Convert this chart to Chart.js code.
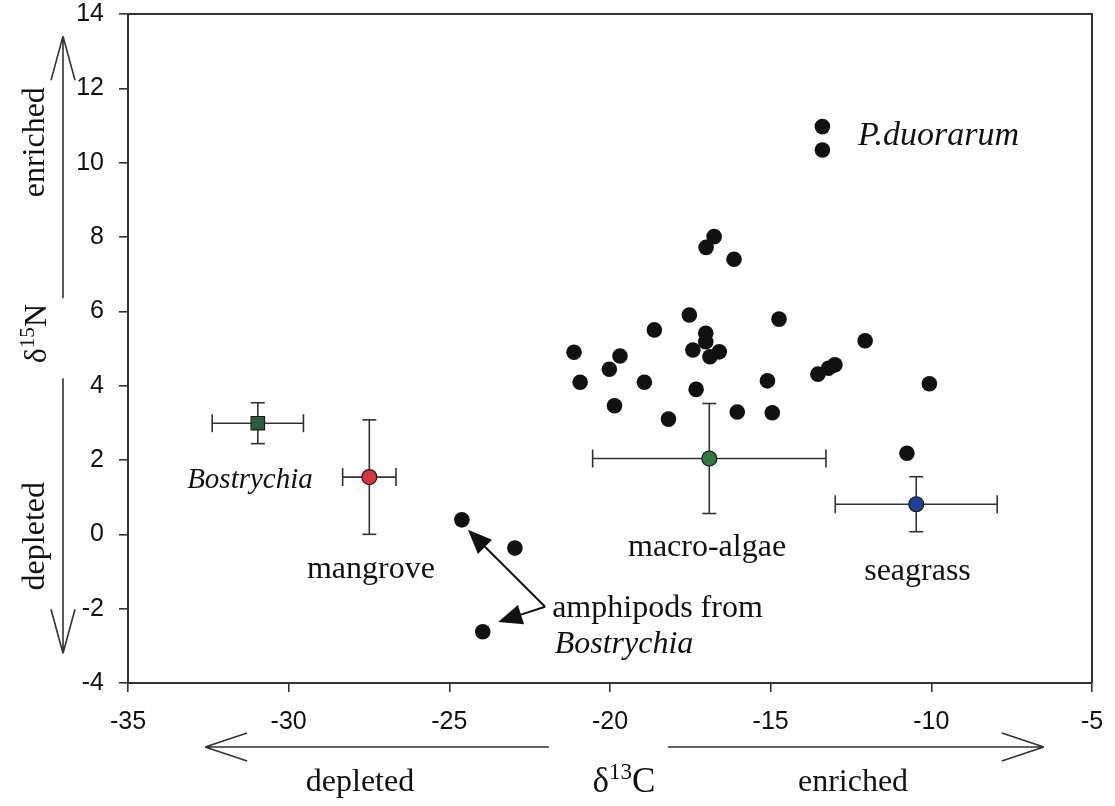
<!DOCTYPE html>
<html>
<head>
<meta charset="utf-8">
<script src="https://cdn.jsdelivr.net/npm/chart.js@4.4.0/dist/chart.umd.min.js"></script>
<style>
  html, body { margin: 0; padding: 0; background: #fff; }
  #wrap { width: 1115px; height: 806px; position: relative; }
</style>
</head>
<body>
<div id="wrap"><canvas id="isoChart"></canvas></div>
<script>
// axis ticks
const xTicks = [-35, -30, -25, -20, -15, -10, -5];
const yTicks = [-4, -2, 0, 2, 4, 6, 8, 10, 12, 14];

// consumers (black dots): d13C, d15N
const consumerC = [-16.76, -17.01, -16.14, -17.53, -14.74, -18.62, -17.02, -17.02, -12.06, -21.12,
                   -19.69, -17.42, -16.60, -16.89, -20.02, -13.00, -13.20, -13.53, -20.93, -18.93,
                   -15.10, -17.32, -10.06, -19.86, -16.04, -14.95, -18.18, -10.76];
const consumerN = [8.01, 7.72, 7.40, 5.90, 5.79, 5.50, 5.41, 5.18, 5.21, 4.90,
                   4.80, 4.96, 4.91, 4.78, 4.44, 4.56, 4.47, 4.31, 4.09, 4.09,
                   4.13, 3.90, 4.05, 3.46, 3.29, 3.27, 3.10, 2.18];

// P. duorarum
const shrimpC = [-13.39, -13.39];
const shrimpN = [10.97, 10.34];

// amphipods from Bostrychia
const amphipodC = [-24.61, -22.96, -23.96];
const amphipodN = [0.39, -0.37, -2.62];

// primary producers, mean +- sd
const sourceNames = ['Bostrychia', 'mangrove', 'macro-algae', 'seagrass'];
const sourceC   = [-30.96, -27.49, -16.91, -10.47];
const sourceCSd = [1.42, 0.83, 3.63, 2.52];
const sourceN   = [2.99, 1.54, 2.04, 0.81];
const sourceNSd = [0.55, 1.54, 1.48, 0.74];

const sourceStyle = [
  { style: 'rect',   radius: 9.5, fill: '#2a5e36' },
  { style: 'circle', radius: 7.5, fill: '#d9343f' },
  { style: 'circle', radius: 7.5, fill: '#2f7a40' },
  { style: 'circle', radius: 7.5, fill: '#1f3f9e' }
];

const serif = '"Liberation Serif", "Times New Roman", serif';
const sans = '"Liberation Sans", Arial, sans-serif';

// text labels inside the plot (data units, left edge / vertical middle)
const notes = [
  { text: 'P.duorarum',     x: -12.28, y: 10.72, italic: true, size: 34 },
  { text: 'Bostrychia',     x: -33.16, y: 1.45,  italic: true, size: 29 },
  { text: 'mangrove',       x: -29.43, y: -0.96, size: 32 },
  { text: 'macro-algae',    x: -19.44, y: -0.37, size: 32 },
  { text: 'seagrass',       x: -12.09, y: -1.01, size: 32 },
  { text: 'amphipods from', x: -21.80, y: -2.01, size: 32 },
  { text: 'Bostrychia',     x: -21.72, y: -2.98, italic: true, size: 32 }
];
const pointerFrom = { x: -22.02, y: -1.95 };
const pointerTo = [{ x: -24.42, y: 0.12 }, { x: -23.48, y: -2.36 }];

function toPoints(xs, ys) {
  return xs.map((v, i) => ({ x: v, y: ys[i] }));
}

const datasets = [];
sourceNames.forEach((name, i) => {
  datasets.push({
    label: name,
    data: [{ x: sourceC[i], y: sourceN[i] }],
    pointStyle: sourceStyle[i].style,
    pointRadius: sourceStyle[i].radius,
    backgroundColor: sourceStyle[i].fill,
    borderColor: '#1a1a1a',
    borderWidth: 1.2,
    order: 0
  });
  // horizontal bar (d13C sd), caps are vertical
  datasets.push({
    label: name + ' C sd',
    data: [{ x: sourceC[i] - sourceCSd[i], y: sourceN[i] }, { x: sourceC[i] + sourceCSd[i], y: sourceN[i] }],
    showLine: true,
    borderColor: '#333',
    borderWidth: 1.6,
    pointStyle: 'line',
    pointRadius: 9,
    pointRotation: 90,
    pointBorderColor: '#333',
    pointBorderWidth: 1.6,
    order: 1
  });
  // vertical bar (d15N sd), caps are horizontal
  datasets.push({
    label: name + ' N sd',
    data: [{ x: sourceC[i], y: sourceN[i] - sourceNSd[i] }, { x: sourceC[i], y: sourceN[i] + sourceNSd[i] }],
    showLine: true,
    borderColor: '#333',
    borderWidth: 1.6,
    pointStyle: 'line',
    pointRadius: 7,
    pointRotation: 0,
    pointBorderColor: '#333',
    pointBorderWidth: 1.6,
    order: 1
  });
});

[[consumerC, consumerN, 'consumers'], [shrimpC, shrimpN, 'P. duorarum'], [amphipodC, amphipodN, 'amphipods']]
  .forEach(([xs, ys, name]) => {
    datasets.push({
      label: name,
      data: toPoints(xs, ys),
      pointStyle: 'circle',
      pointRadius: 7.8,
      backgroundColor: '#111',
      borderColor: '#111',
      borderWidth: 0,
      order: 2
    });
  });

// text with raised digits, e.g. delta 13 C
function richWidth(ctx, parts, size) {
  let w = 0;
  parts.forEach(p => {
    ctx.font = (p.sup ? size * 0.66 : size) + 'px ' + serif;
    w += ctx.measureText(p.t).width;
  });
  return w;
}
function richText(ctx, parts, cx, cy, size) {
  let x = cx - richWidth(ctx, parts, size) / 2;
  ctx.textBaseline = 'middle';
  ctx.textAlign = 'left';
  parts.forEach(p => {
    ctx.font = (p.sup ? size * 0.66 : size) + 'px ' + serif;
    ctx.fillText(p.t, x, p.sup ? cy - size * 0.3 : cy);
    x += ctx.measureText(p.t).width;
  });
}

function openArrow(ctx, x1, y1, x2, y2, len, half) {
  const a = Math.atan2(y2 - y1, x2 - x1);
  ctx.beginPath();
  ctx.moveTo(x1, y1);
  ctx.lineTo(x2, y2);
  [-1, 1].forEach(s => {
    ctx.moveTo(x2, y2);
    ctx.lineTo(x2 - len * Math.cos(a) + s * half * Math.sin(a), y2 - len * Math.sin(a) - s * half * Math.cos(a));
  });
  ctx.stroke();
}

function solidArrow(ctx, x1, y1, x2, y2, len, half) {
  const a = Math.atan2(y2 - y1, x2 - x1);
  const bx = x2 - len * Math.cos(a), by = y2 - len * Math.sin(a);
  ctx.beginPath();
  ctx.moveTo(x1, y1);
  ctx.lineTo(bx, by);
  ctx.stroke();
  ctx.beginPath();
  ctx.moveTo(x2, y2);
  ctx.lineTo(bx + half * Math.sin(a), by - half * Math.cos(a));
  ctx.lineTo(bx - half * Math.sin(a), by + half * Math.cos(a));
  ctx.closePath();
  ctx.fill();
}

const overlay = {
  id: 'overlay',
  afterDraw(chart) {
    const { ctx, chartArea: area, scales: { x, y } } = chart;
    ctx.save();

    // top and right frame
    ctx.strokeStyle = '#333';
    ctx.lineWidth = 2;
    ctx.beginPath();
    ctx.moveTo(area.left, area.top);
    ctx.lineTo(area.right, area.top);
    ctx.lineTo(area.right, area.bottom);
    ctx.stroke();

    // labels in the plot
    ctx.fillStyle = '#111';
    ctx.textBaseline = 'middle';
    ctx.textAlign = 'left';
    notes.forEach(n => {
      ctx.font = (n.italic ? 'italic ' : '') + n.size + 'px ' + serif;
      ctx.fillText(n.text, x.getPixelForValue(n.x), y.getPixelForValue(n.y));
    });

    // pointers to the amphipods
    ctx.strokeStyle = '#111';
    ctx.lineWidth = 2;
    const fx = x.getPixelForValue(pointerFrom.x), fy = y.getPixelForValue(pointerFrom.y);
    pointerTo.forEach(p => {
      solidArrow(ctx, fx, fy, x.getPixelForValue(p.x), y.getPixelForValue(p.y), 24, 10);
    });

    // y side: enriched / d15N / depleted
    ctx.strokeStyle = '#333';
    ctx.lineWidth = 1.6;
    const ax = 63;
    openArrow(ctx, ax, y.getPixelForValue(6.35), ax, y.getPixelForValue(13.4), 44, 12);
    openArrow(ctx, ax, y.getPixelForValue(4.2), ax, y.getPixelForValue(-3.2), 44, 12);
    ctx.fillStyle = '#111';
    [['enriched', 10.55], ['depleted', -0.05]].forEach(([t, v]) => {
      ctx.save();
      ctx.translate(36, y.getPixelForValue(v));
      ctx.rotate(-Math.PI / 2);
      ctx.font = '32px ' + serif;
      ctx.textAlign = 'center';
      ctx.textBaseline = 'middle';
      ctx.fillText(t, 0, 0);
      ctx.restore();
    });
    ctx.save();
    ctx.translate(38, y.getPixelForValue(5.4));
    ctx.rotate(-Math.PI / 2);
    richText(ctx, [{ t: 'δ' }, { t: '15', sup: true }, { t: 'N' }], 0, 0, 32);
    ctx.restore();

    // x side: depleted / d13C / enriched
    const ay = 747;
    openArrow(ctx, x.getPixelForValue(-21.9), ay, x.getPixelForValue(-32.6), ay, 42, 14);
    openArrow(ctx, x.getPixelForValue(-18.2), ay, x.getPixelForValue(-6.5), ay, 42, 14);
    ctx.font = '32px ' + serif;
    ctx.textAlign = 'center';
    ctx.textBaseline = 'middle';
    ctx.fillText('depleted', 360, 783);
    ctx.fillText('enriched', 853, 783);
    richText(ctx, [{ t: 'δ' }, { t: '13', sup: true }, { t: 'C' }], 624, 783, 35);

    ctx.restore();
  }
};

const ctx = document.getElementById('isoChart').getContext('2d');
const isoChart = new Chart(ctx, {
  type: 'scatter',
  data: { datasets: datasets },
  options: {
    responsive: true,
    maintainAspectRatio: false,
    animation: false,
    layout: { padding: { top: 14, right: 23, bottom: 0, left: 0 } },
    plugins: {
      legend: { display: false },
      tooltip: { enabled: false }
    },
    scales: {
      x: {
        type: 'linear',
        position: 'bottom',
        min: -35,
        max: -5,
        afterBuildTicks: s => { s.ticks = xTicks.map(v => ({ value: v })); },
        afterFit: s => { s.height = 123; s.paddingLeft = 0; s.paddingRight = 0; },
        grid: { drawOnChartArea: false, tickLength: 9, color: '#333', lineWidth: 1.6 },
        border: { color: '#333', width: 2 },
        ticks: { color: '#111', padding: 15, font: { family: sans, size: 25 }, maxRotation: 0 }
      },
      y: {
        type: 'linear',
        min: -4,
        max: 14,
        afterBuildTicks: s => { s.ticks = yTicks.map(v => ({ value: v })); },
        afterFit: s => { s.width = 128; s.paddingTop = 0; s.paddingBottom = 0; },
        grid: { drawOnChartArea: false, tickLength: 9, color: '#333', lineWidth: 1.6 },
        border: { color: '#333', width: 2 },
        ticks: { color: '#111', padding: 15, font: { family: sans, size: 25 } }
      }
    }
  },
  plugins: [overlay]
});
</script>
</body>
</html>
